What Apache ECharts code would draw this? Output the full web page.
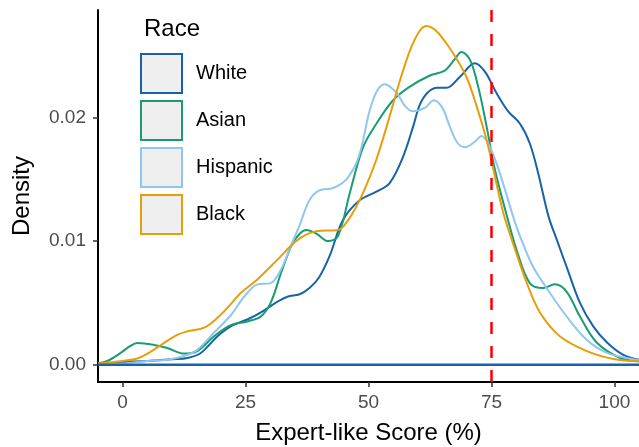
<!DOCTYPE html>
<html>
<head>
<meta charset="utf-8">
<script src="https://cdn.jsdelivr.net/npm/echarts@6/dist/echarts.min.js"></script>
<style>
html,body{margin:0;padding:0;background:#fff;}
#chart{width:639px;height:447px;}
</style>
</head>
<body>
<div id="chart"></div>
<script>
// ---- data ----
const categories = ['White', 'Asian', 'Hispanic', 'Black'];
const xTicks = [0, 25, 50, 75, 100];
const yTicks = [0, 0.01, 0.02];
const cutoff = 75;

const white = [[-5,0.00005],[0,0.0002],[5,0.0003],[10,0.00045],[13.2,0.00055],[15.9,0.00095],[19.3,0.0023],[22,0.0031],[26.1,0.0038],[28.8,0.0044],[31.5,0.0051],[33.5,0.0055],[36,0.0057],[38,0.0062],[40,0.0071],[42.1,0.0088],[44.8,0.0117],[48.2,0.0133],[51.6,0.014],[54.3,0.0147],[57,0.0168],[59.1,0.0193],[60.4,0.0210],[62,0.0220],[64,0.0224],[65.9,0.0224],[68.6,0.0233],[71.6,0.0244],[73.7,0.0237],[76,0.022],[78.4,0.0205],[80.8,0.0195],[82.8,0.0179],[84.5,0.0155],[86.6,0.012],[88.3,0.0101],[90.3,0.0079],[93,0.005],[95.7,0.0031],[98.5,0.0018],[101.8,0.0008],[105,0.0004]];

const asian = [[-5,0.0001],[-3.1,0.0003],[-0.4,0.00095],[1.5,0.0015],[3,0.00175],[6.4,0.0016],[9.1,0.00135],[12.5,0.0009],[15.2,0.0011],[18.6,0.0023],[22,0.0032],[25.4,0.0035],[28.1,0.0039],[30.1,0.005],[32.2,0.0074],[34.4,0.0097],[36,0.0106],[37.4,0.0109],[39.4,0.0106],[41.8,0.0100],[43.8,0.0104],[46.2,0.0139],[48.9,0.0176],[51.6,0.0195],[55,0.0214],[58.4,0.0225],[62.5,0.0234],[65.5,0.0238],[67.5,0.0247],[68.9,0.0253],[70.6,0.0247],[72.3,0.0225],[74,0.0193],[75.7,0.0158],[78.1,0.0121],[80.1,0.0093],[82.8,0.0066],[85.5,0.0062],[87.9,0.0065],[90.3,0.0059],[93,0.0039],[96.4,0.0018],[101.2,0.00054],[105,0.00027]];

const hispanic = [[-5,0.00005],[0,0.0001],[5,0.0003],[9.1,0.0004],[12.5,0.0007],[15.2,0.0012],[18.6,0.0026],[22,0.004],[24.7,0.0055],[27.4,0.0065],[30.1,0.0066],[32.2,0.0077],[34.2,0.0096],[36,0.0113],[38,0.0133],[40,0.0141],[42.8,0.0143],[45.5,0.0150],[48,0.0168],[50.2,0.0205],[51.8,0.0222],[53.3,0.0227],[55.7,0.0220],[57.5,0.0209],[59.1,0.0205],[61.5,0.0208],[63.3,0.0214],[65,0.0208],[66.5,0.0193],[68,0.0180],[69.6,0.0176],[71.5,0.0180],[73,0.0185],[74.7,0.0176],[76.7,0.0155],[79.4,0.012],[80.8,0.0104],[83.5,0.0079],[86.9,0.0058],[90.3,0.0039],[94.4,0.002],[98.5,0.00095],[102.5,0.00054],[105,0.00035]];

const black = [[-5,0.0001],[0,0.0003],[3,0.0005],[5.5,0.001],[8.4,0.00175],[11,0.0024],[13.2,0.0027],[16.6,0.003],[19.3,0.0038],[22,0.0049],[24,0.0058],[27.4,0.0069],[31.5,0.0085],[35.6,0.0101],[39.4,0.0108],[43.8,0.0109],[46.2,0.0119],[48.9,0.0139],[51.6,0.0166],[54.3,0.0201],[56.4,0.023],[58.5,0.0255],[60.4,0.0270],[61.8,0.0274],[63.2,0.0272],[64.5,0.0267],[67.2,0.0252],[69.9,0.0233],[72,0.0209],[74,0.0182],[75.4,0.0158],[77.4,0.0123],[79.4,0.0098],[82.2,0.0066],[84.9,0.0042],[88.9,0.0023],[94.4,0.0011],[99.8,0.00046],[105,0.00027]];

const baseline = [[-5,0],[105,0]];

const colors = {White:'#1763AA', Asian:'#1A9B73', Hispanic:'#8FC7EE', Black:'#E69F0A'};
const seriesData = {White:white, Asian:asian, Hispanic:hispanic, Black:black};

const FONT = 'Liberation Sans, Arial, sans-serif';
const chart = echarts.init(document.getElementById('chart'), null, {renderer:'canvas'});

const series = categories.map(c => ({
  name: c, type: 'line', data: seriesData[c], smooth: 0.35, symbol: 'none',
  lineStyle: {color: colors[c], width: 2}, itemStyle: {color: colors[c]}, z: 3
}));
series.push({
  name: 'baseline', type: 'line', data: baseline, symbol: 'none', silent: true,
  lineStyle: {color: colors.White, width: 2.5}, z: 4,
  markLine: {
    silent: true, symbol: 'none', label: {show: false},
    lineStyle: {color: '#FF0000', type: [12, 12], width: 2.5},
    data: [{xAxis: cutoff}]
  }
});

chart.setOption({
  animation: false,
  backgroundColor: '#ffffff',
  textStyle: {fontFamily: FONT},
  title: {
    text: 'Race', left: 139, top: 12,
    textStyle: {fontFamily: FONT, fontSize: 24, fontWeight: 'normal', color: '#000', lineHeight: 24}
  },
  legend: {
    orient: 'vertical', left: 140, top: 53, padding: 0,
    icon: 'rect', itemWidth: 41, itemHeight: 39, itemGap: 6,
    selectedMode: false,
    textStyle: {fontFamily: FONT, fontSize: 20, color: '#000', padding: [0, 0, 0, 9]},
    data: categories.map(c => ({
      name: c, icon: 'rect',
      itemStyle: {color: '#EFEFEF', borderColor: colors[c], borderWidth: 2}
    }))
  },
  grid: {left: 98, right: 0, top: 10, bottom: 65, containLabel: false, outerBoundsMode: 'none'},
  xAxis: {
    type: 'value', min: -5, max: 105,
    name: 'Expert-like Score (%)', nameLocation: 'middle', nameGap: 39,
    nameTextStyle: {fontFamily: FONT, fontSize: 24, color: '#000'},
    axisLine: {show: true, onZero: false, lineStyle: {color: '#000', width: 2}},
    axisTick: {show: true, length: 5, customValues: xTicks, lineStyle: {color: '#333', width: 1.5}},
    axisLabel: {customValues: xTicks, margin: 11, fontFamily: FONT, fontSize: 19, color: '#4D4D4D'},
    splitLine: {show: false}
  },
  yAxis: {
    type: 'value', min: -0.0014, max: 0.0287,
    name: 'Density', nameLocation: 'middle', nameGap: 64, nameRotate: 90,
    nameTextStyle: {fontFamily: FONT, fontSize: 24, color: '#000'},
    axisLine: {show: true, onZero: false, lineStyle: {color: '#000', width: 2}},
    axisTick: {show: true, length: 5, customValues: yTicks, lineStyle: {color: '#333', width: 1.5}},
    axisLabel: {customValues: yTicks, margin: 12, fontFamily: FONT, fontSize: 19, color: '#4D4D4D',
      formatter: v => v.toFixed(2)},
    splitLine: {show: false}
  },
  series: series
});
</script>
</body>
</html>
